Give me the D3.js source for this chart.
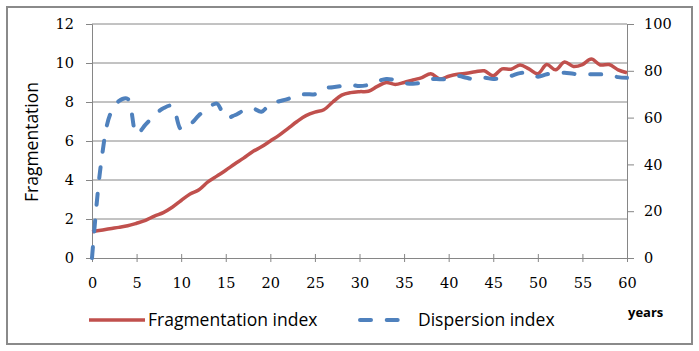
<!DOCTYPE html>
<html lang="en">
<head>
<meta charset="UTF-8">
<title>Fragmentation and dispersion index</title>
<style>
  body { margin: 0; background: #fff; }
  .tick text { font-family: "DejaVu Serif", serif; font-size: 14.5px; fill: #000; }
  .tick line, .domain { stroke: #868686; }
  .grid line { stroke: #868686; stroke-width: 1; }
  .label { font-family: "Open Sans", sans-serif; font-size: 17.5px; fill: #000; }
</style>
</head>
<body>
<svg id="chart" width="699" height="351"></svg>
<script src="https://cdn.jsdelivr.net/npm/d3@7/dist/d3.min.js"></script>
<script>
const years = [0,1,2,3,4,5,6,7,8,9,10,11,12,13,14,15,16,17,18,19,20,
  21,22,23,24,25,26,27,28,29,30,31,32,33,34,35,36,37,38,39,40,
  41,42,43,44,45,46,47,48,49,50,51,52,53,54,55,56,57,58,59,60]

const fragmentation = [1.35,1.42,1.5,1.57,1.65,1.78,1.93,2.15,2.33,2.6,2.95,
  3.28,3.5,3.9,4.2,4.5,4.82,5.12,5.45,5.7,6.0,
  6.3,6.65,7.0,7.3,7.48,7.6,8.0,8.35,8.48,8.53,
  8.55,8.8,9.0,8.9,9.0,9.13,9.25,9.45,9.18,9.32,
  9.42,9.47,9.55,9.6,9.35,9.7,9.68,9.9,9.7,9.45,
  9.92,9.65,10.05,9.82,9.92,10.2,9.9,9.92,9.65,9.5]

const dispersion = [0,40,61,67,68,53,57,61,64,65,55,
  57,61,64,66,60,61,63,64,62.5,66,
  67,68,69.5,70,70,72.5,73,73.5,74,73.5,
  74,75.5,76.5,76,74.8,74.5,75,76.4,76.4,76.5,
  77.8,77,76.3,77,76.5,77,77.8,79,79,77.5,
  78.5,79,79.2,78.7,78.5,78.5,78.5,78.2,77.3,77]

const xTicks = [0,5,10,15,20,25,30,35,40,45,50,55,60]
const leftTicks = [0,2,4,6,8,10,12]
const rightTicks = [0,20,40,60,80,100]

const svg = d3.select("#chart")
const margin = {left: 92, top: 24}
const width = 535, height = 234

// outer frame
svg.append("rect")
    .attr("x", 7).attr("y", 7)
    .attr("width", 685).attr("height", 337)
    .attr("fill", "#fff")
    .attr("stroke", "#8a8a8a")
    .attr("stroke-width", 2)

const g = svg.append("g").attr("transform", `translate(${margin.left},${margin.top})`)

const x = d3.scaleLinear().domain([0, 60]).range([0, width])
const yL = d3.scaleLinear().domain([0, 12]).range([height, 0])
const yR = d3.scaleLinear().domain([0, 100]).range([height, 0])

// horizontal gridlines
g.append("g").attr("class", "grid")
    .selectAll("line")
    .data(leftTicks.filter(d => d > 0))
    .enter().append("line")
    .attr("x1", 0).attr("x2", width)
    .attr("y1", d => yL(d)).attr("y2", d => yL(d))

g.append("g")
    .call(d3.axisLeft(yL).tickValues(leftTicks).tickSize(6).tickPadding(12))

g.append("g")
    .attr("transform", `translate(${width},0)`)
    .call(d3.axisRight(yR).tickValues(rightTicks).tickSize(7).tickPadding(10))

let xAxis = g.append("g")
    .attr("transform", `translate(0,${height})`)
    .call(d3.axisBottom(x).tickValues(xTicks).tickSize(4).tickSizeOuter(0))
xAxis.selectAll(".tick line").attr("y1", -4)
xAxis.selectAll(".tick text").attr("y", 20)

g.selectAll(".domain").attr("stroke", "#868686")

const fragLine = d3.line()
    .x((d, i) => x(years[i]))
    .y(d => yL(d))
    .curve(d3.curveCatmullRom)

const dispLine = d3.line()
    .x((d, i) => x(years[i]))
    .y(d => yR(d))
    .curve(d3.curveCatmullRom)

g.append("path")
    .datum(fragmentation)
    .attr("d", fragLine)
    .attr("fill", "none")
    .attr("stroke", "#C0504D")
    .attr("stroke-width", 3.5)
    .attr("stroke-linejoin", "round")

g.append("path")
    .datum(dispersion)
    .attr("d", dispLine)
    .attr("fill", "none")
    .attr("stroke", "#4F81BD")
    .attr("stroke-width", 4)
    .attr("stroke-linecap", "round")
    .attr("stroke-dasharray", "11,15.7")

// y title
svg.append("text")
    .attr("class", "label")
    .attr("transform", "translate(38,142) rotate(-90)")
    .attr("text-anchor", "middle")
    .text("Fragmentation")

// legend
svg.append("line")
    .attr("x1", 89).attr("x2", 145).attr("y1", 320).attr("y2", 320)
    .attr("stroke", "#C0504D").attr("stroke-width", 3.5)
svg.append("text").attr("class", "label")
    .attr("x", 148).attr("y", 326).text("Fragmentation index")

svg.append("line")
    .attr("x1", 360).attr("x2", 400).attr("y1", 320).attr("y2", 320)
    .attr("stroke", "#4F81BD").attr("stroke-width", 4)
    .attr("stroke-linecap", "round")
    .attr("stroke-dasharray", "11,15.7")
svg.append("text").attr("class", "label")
    .attr("x", 418).attr("y", 326).text("Dispersion index")

svg.append("text")
    .attr("x", 628).attr("y", 317)
    .style("font-family", "Open Sans, sans-serif")
    .style("font-size", "13px")
    .style("font-weight", "bold")
    .text("years")
</script>
</body>
</html>
